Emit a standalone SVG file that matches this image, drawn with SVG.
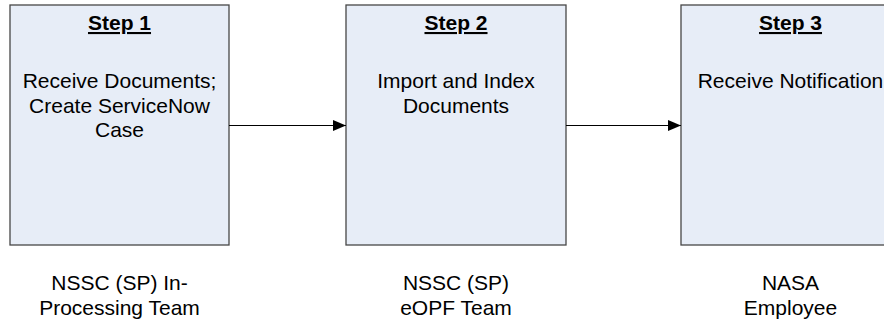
<svg xmlns="http://www.w3.org/2000/svg" width="884" height="330" viewBox="0 0 884 330">
<style>
.box{fill:#E7EDF7;stroke:#474747;stroke-width:1.3}
.t{font-family:"Liberation Sans",Arial,sans-serif;font-size:21px;fill:#000;text-anchor:middle}
.h{font-weight:bold;text-decoration:underline}
.conn{stroke:#000;stroke-width:1.2;fill:none}
</style>
<defs>
<marker id="arr" viewBox="0 0 13 11" refX="13" refY="5.5" markerWidth="13" markerHeight="11" markerUnits="userSpaceOnUse" orient="auto">
<path d="M0,0 L13,5.5 L0,11 Z" fill="#000"/>
</marker>
</defs>
<rect width="884" height="330" fill="#fff"/>
<g id="step1">
<rect class="box" x="10" y="5" width="219" height="240"/>
<text class="t h" x="119.5" y="30">Step 1</text>
<text class="t" x="119.5" y="88">Receive Documents;</text>
<text class="t" x="119.5" y="112.5">Create ServiceNow</text>
<text class="t" x="119.5" y="137">Case</text>
</g>
<g id="step2">
<rect class="box" x="346" y="5" width="220" height="240"/>
<text class="t h" x="456" y="30">Step 2</text>
<text class="t" x="456" y="88">Import and Index</text>
<text class="t" x="456" y="112.5">Documents</text>
</g>
<g id="step3">
<rect class="box" x="681" y="5" width="220" height="240"/>
<text class="t h" x="790.5" y="30">Step 3</text>
<text class="t" x="790.5" y="88">Receive Notification</text>
</g>
<g id="label1">
<text class="t" x="119.5" y="290">NSSC (SP) In-</text>
<text class="t" x="119.5" y="315">Processing Team</text>
</g>
<g id="label2">
<text class="t" x="456" y="290">NSSC (SP)</text>
<text class="t" x="456" y="315">eOPF Team</text>
</g>
<g id="label3">
<text class="t" x="790.5" y="290">NASA</text>
<text class="t" x="790.5" y="315">Employee</text>
</g>
<g id="connectors">
<line class="conn" x1="229" y1="125.5" x2="346" y2="125.5" marker-end="url(#arr)"/>
<line class="conn" x1="566" y1="125.5" x2="681" y2="125.5" marker-end="url(#arr)"/>
</g>
</svg>
